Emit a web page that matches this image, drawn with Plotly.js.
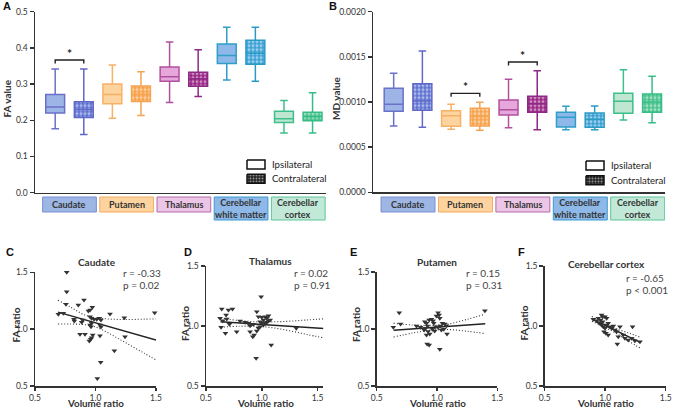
<!DOCTYPE html>
<html><head><meta charset="utf-8">
<script src="https://cdn.plot.ly/plotly-3.0.1.min.js"></script>
<style>html,body{margin:0;padding:0;background:#fff;}#chart{width:673px;height:411px;}</style>
</head><body><div id="chart"></div>
<script>
// ---------------- DATA ----------------
const groups = ['Caudate','Putamen','Thalamus','Cerebellar<br>white matter','Cerebellar<br>cortex'];
const sides = ['Ipsilateral','Contralateral'];

const faIpsiMin = [0.177,0.206,0.249,0.311,0.165];
const faIpsiQ1  = [0.220,0.246,0.308,0.357,0.194];
const faIpsiMed = [0.237,0.271,0.320,0.379,0.204];
const faIpsiQ3  = [0.271,0.300,0.347,0.411,0.225];
const faIpsiMax = [0.342,0.353,0.416,0.457,0.255];
const faConMin  = [0.161,0.213,0.266,0.308,0.165];
const faConQ1   = [0.208,0.252,0.294,0.355,0.199];
const faConMed  = [0.230,0.272,0.315,0.385,0.210];
const faConQ3   = [0.251,0.295,0.333,0.421,0.222];
const faConMax  = [0.342,0.334,0.395,0.457,0.276];

const mdIpsiMin = [0.000734,0.000697,0.000716,0.000694,0.000801];
const mdIpsiQ1  = [0.000897,0.000731,0.000856,0.000723,0.000875];
const mdIpsiMed = [0.000974,0.000849,0.000915,0.000830,0.001007];
const mdIpsiQ3  = [0.001151,0.000904,0.001022,0.000886,0.001096];
const mdIpsiMax = [0.001317,0.000974,0.001251,0.000952,0.001358];
const mdConMin  = [0.000720,0.000686,0.000694,0.000694,0.000771];
const mdConQ1   = [0.000908,0.000734,0.000886,0.000720,0.000886];
const mdConMed  = [0.001010,0.000840,0.000980,0.000810,0.001000];
const mdConQ3   = [0.001203,0.000930,0.001063,0.000878,0.001089];
const mdConMax  = [0.001565,0.000996,0.001347,0.000956,0.001284];

const sigGroupsA = [0];
const sigHeightA = [0.3665];
const sigGroupsB = [1,2];
const sigHeightB = [0.001096,0.001443];

const cVol = [0.762,1.050,0.762,0.756,0.858,0.905,0.974,0.955,0.941,1.120,1.489,0.693,0.734,0.822,0.825,0.894,0.886,0.955,0.968,0.988,1.010,1.032,1.045,0.968,0.955,0.963,1.037,1.045,1.238,0.872,0.913,0.977,0.968,0.960,0.949,1.037,1.244,1.156,1.043,1.015];
const cFA  = [1.500,1.520,1.330,1.218,1.212,1.256,1.192,1.168,1.160,1.133,1.145,1.130,1.139,1.086,1.072,1.080,1.060,1.110,1.095,1.086,1.086,1.095,1.080,1.051,1.037,1.022,1.037,1.019,1.101,0.955,0.955,0.949,0.925,0.911,0.896,0.943,0.934,0.811,0.708,0.567];
const cFitX = [0.69,1.50];
const cFitY = [1.150,0.905];
const cBandX = [0.69,0.8,0.9,1.0,1.1,1.2,1.3,1.4,1.5];
const cBandHi = [1.255,1.19,1.13,1.10,1.09,1.085,1.085,1.088,1.09];
const cBandLo = [1.045,1.045,1.04,1.02,0.97,0.91,0.85,0.79,0.73];

const dVol = [0.994,0.641,0.701,0.737,0.680,0.626,0.686,0.650,0.710,0.635,0.674,0.775,0.805,0.850,0.880,0.895,0.910,0.925,0.955,0.970,1.000,1.030,1.060,1.015,1.045,0.985,1.000,1.015,1.030,1.045,1.060,1.075,0.895,0.919,0.931,0.955,0.970,0.985,1.084,0.949,1.309,1.560];
const dFA  = [1.244,1.142,1.133,1.142,1.092,1.064,1.058,1.044,1.014,0.989,0.939,0.953,1.042,1.031,1.022,1.003,1.014,1.014,1.119,1.078,1.072,1.078,1.086,1.050,1.064,1.036,1.022,1.008,1.022,1.031,1.042,1.050,0.953,0.911,0.925,0.958,0.981,0.994,0.842,0.731,0.981,0.981];
const dFitX = [0.63,1.56];
const dFitY = [1.035,0.980];
const dBandX = [0.63,0.8,0.95,1.1,1.25,1.4,1.56];
const dBandHi = [1.065,1.045,1.035,1.035,1.04,1.05,1.06];
const dBandLo = [0.99,0.998,0.998,0.985,0.96,0.93,0.90];

const eVol = [0.638,0.687,0.698,0.830,0.863,0.899,0.913,0.921,0.904,0.893,0.926,0.940,0.913,0.918,0.935,0.935,0.954,0.968,0.973,0.995,1.009,1.017,1.023,0.990,0.962,0.981,1.009,1.028,1.045,1.064,1.078,1.036,1.056,1.083,1.023,1.397];
const eFA  = [1.015,1.143,1.044,1.026,1.015,1.064,1.050,1.026,1.006,0.991,0.977,0.956,0.947,0.868,0.860,1.079,1.085,1.073,1.050,1.114,1.143,1.123,1.094,1.020,0.997,0.982,1.015,1.026,1.050,1.044,1.029,0.991,0.997,0.956,0.822,1.161];
const eFitX = [0.64,1.40];
const eFitY = [0.990,1.045];
const eBandX = [0.64,0.8,0.95,1.1,1.25,1.4];
const eBandHi = [1.05,1.035,1.03,1.045,1.085,1.13];
const eBandLo = [0.93,0.965,0.99,0.995,0.98,0.96];

const fVol = [0.902,0.929,0.943,0.962,0.979,0.998,1.012,0.951,0.970,0.984,0.998,1.012,1.025,1.039,1.053,1.067,1.080,1.094,0.990,1.006,1.025,1.108,1.100,1.122,1.149,1.163,1.190,1.218,1.245,1.287,1.226,0.979,0.970];
const fFA  = [1.056,1.044,1.064,1.050,1.036,1.078,1.064,1.022,1.008,0.994,0.981,1.008,1.022,0.994,0.981,1.000,0.967,0.953,0.953,0.939,0.925,0.911,0.850,0.994,0.925,0.897,0.883,0.897,0.878,0.869,0.994,1.078,1.092];
const fFitX = [0.89,1.29];
const fFitY = [1.058,0.863];
const fBandX = [0.89,1.0,1.1,1.2,1.29];
const fBandHi = [1.08,1.012,0.973,0.94,0.906];
const fBandLo = [1.04,0.988,0.933,0.87,0.816];

const scatterTitles = ['Caudate','Thalamus','Putamen','Cerebellar cortex'];
const statR = ['r = -0.33','r = 0.02','r = 0.15','r = -0.65'];
const statP = ['p = 0.02','p = 0.91','p = 0.31','p < 0.001'];

// ---------------- STYLE ----------------
const W = 673, H = 411;
const px = x => x / W, py = y => 1 - y / H;
const FONT = 'Lato, "Open Sans", sans-serif';
const TXT = '#333';
const lineIpsi   = ['#6b70c9','#f7b165','#b0509f','#2e9fc8','#3dbf8b'];
const fillIpsi   = ['#9db4e6','#fdd3a0','#e6a7da','#8eb8e9','#bfe6d1'];
const lineCon    = ['#6167c6','#f5a452','#8c2a86','#2a9bc6','#35bd86'];
const fillCon    = ['#5f73d2','#f8a24a','#9a2483','#3aa0d4','#48c28d'];
const labelFill  = ['#9db6e4','#fdd4a0','#ebc6e6','#8db8e8','#c2e9d8'];
const labelLine  = ['#7a8ed5','#f4ab5e','#b46ba8','#3b9bd0','#5cc598'];
const BOXW = 0.66;

const traces = [];
const shapes = [];
const annotations = [];

function boxPanel(xa, ya, ipsi, con) {
  groups.forEach((g, i) => {
    traces.push({type:'bar', xaxis:xa, yaxis:ya, x:[2*i+1], base:[con.q1[i]], y:[con.q3[i]-con.q1[i]],
      width:BOXW, showlegend:false, hoverinfo:'skip',
      marker:{color:fillCon[i], line:{width:0},
        pattern:{shape:'.', fgcolor:'#ffffff', size:4, solidity:0.42, fillmode:'overlay'}}});
  });
  groups.forEach((g, i) => {
    traces.push({type:'box', xaxis:xa, yaxis:ya, x:[2*i],
      q1:[ipsi.q1[i]], median:[ipsi.med[i]], q3:[ipsi.q3[i]], lowerfence:[ipsi.min[i]], upperfence:[ipsi.max[i]],
      width:BOXW, whiskerwidth:0.4, boxpoints:false, fillcolor:fillIpsi[i],
      line:{color:lineIpsi[i], width:1.5}, showlegend:false, hoverinfo:'skip'});
    traces.push({type:'box', xaxis:xa, yaxis:ya, x:[2*i+1],
      q1:[con.q1[i]], median:[con.med[i]], q3:[con.q3[i]], lowerfence:[con.min[i]], upperfence:[con.max[i]],
      width:BOXW, whiskerwidth:0.4, boxpoints:false, fillcolor:'rgba(0,0,0,0)',
      line:{color:lineCon[i], width:1.5}, showlegend:false, hoverinfo:'skip'});
  });
}
boxPanel('x','y',
  {min:faIpsiMin,q1:faIpsiQ1,med:faIpsiMed,q3:faIpsiQ3,max:faIpsiMax},
  {min:faConMin,q1:faConQ1,med:faConMed,q3:faConQ3,max:faConMax});
boxPanel('x2','y2',
  {min:mdIpsiMin,q1:mdIpsiQ1,med:mdIpsiMed,q3:mdIpsiQ3,max:mdIpsiMax},
  {min:mdConMin,q1:mdConQ1,med:mdConMed,q3:mdConQ3,max:mdConMax});

['x','x2'].forEach(xa => {
  groups.forEach((g, i) => {
    const two = g.indexOf('<br>') >= 0;
    shapes.push({type:'rect', xref:xa, yref:'paper', x0:2*i+0.5-0.94, x1:2*i+0.5+0.94,
      y0:py(two?220:212), y1:py(197), fillcolor:labelFill[i], line:{color:labelLine[i], width:1}, layer:'above'});
    annotations.push({xref:xa, yref:'paper', x:2*i+0.5, y:py(two?208.5:204.5), text:g, showarrow:false,
      xanchor:'center', yanchor:'middle', font:{family:FONT, size:9, color:TXT, weight:'bold'}});
  });
});

function brackets(xa, ya, gs, hs, leg) {
  gs.forEach((g, k) => {
    const h = hs[k], x0 = 2*g, x1 = 2*g+1;
    shapes.push({type:'path', xref:xa, yref:ya, path:`M${x0},${h-leg} L${x0},${h} L${x1},${h} L${x1},${h-leg}`,
      line:{color:'#222', width:1.4}});
    annotations.push({xref:xa, yref:ya, x:g*2+0.5, y:h, text:'*', showarrow:false, xanchor:'center', yanchor:'bottom',
      yshift:-3, font:{family:FONT, size:12, color:'#222', weight:'bold'}});
  });
}
brackets('x','y',sigGroupsA,sigHeightA,0.0095);
brackets('x2','y2',sigGroupsB,sigHeightB,0.000038);

const sc = [
  {xa:'x3',ya:'y3',vx:cVol,vy:cFA,fx:cFitX,fy:cFitY,bx:cBandX,bh:cBandHi,bl:cBandLo},
  {xa:'x4',ya:'y4',vx:dVol,vy:dFA,fx:dFitX,fy:dFitY,bx:dBandX,bh:dBandHi,bl:dBandLo},
  {xa:'x5',ya:'y5',vx:eVol,vy:eFA,fx:eFitX,fy:eFitY,bx:eBandX,bh:eBandHi,bl:eBandLo},
  {xa:'x6',ya:'y6',vx:fVol,vy:fFA,fx:fFitX,fy:fFitY,bx:fBandX,bh:fBandHi,bl:fBandLo}
];
sc.forEach(s => {
  [s.bh, s.bl].forEach(b => traces.push({type:'scatter', mode:'lines', xaxis:s.xa, yaxis:s.ya, x:s.bx, y:b,
    line:{color:'#333', width:1.1, dash:'1px,2px', shape:'spline'}, showlegend:false, hoverinfo:'skip', cliponaxis:false}));
  traces.push({type:'scatter', mode:'lines', xaxis:s.xa, yaxis:s.ya, x:s.fx, y:s.fy,
    line:{color:'#222', width:1.5}, showlegend:false, hoverinfo:'skip', cliponaxis:false});
  traces.push({type:'scatter', mode:'markers', xaxis:s.xa, yaxis:s.ya, x:s.vx, y:s.vy,
    marker:{symbol:'triangle-down', size:5, color:'#333', line:{width:0}}, showlegend:false, hoverinfo:'skip', cliponaxis:false});
});

function legendKeys(x0, y0, dy) {
  const w = 18, h = 9;
  sides.forEach((s, k) => {
    const yt = y0 + k*dy;
    const tr = {type:'scatter', mode:'lines', xaxis:'x7', yaxis:'y7',
      x:[x0, x0+w, x0+w, x0, x0], y:[yt, yt, yt+h, yt+h, yt], fill:'toself',
      fillcolor: k===0 ? '#ffffff' : '#222222',
      line:{color:'#111', width:1.5}, showlegend:false, hoverinfo:'skip'};
    if (k === 1) tr.fillpattern = {shape:'.', fgcolor:'#ffffff', bgcolor:'#222222', size:3, solidity:0.35, fillmode:'overlay'};
    traces.push(tr);
    annotations.push({xref:'paper', yref:'paper', x:px(x0+w+5), y:py(yt+h/2), text:s, showarrow:false,
      xanchor:'left', yanchor:'middle', font:{family:FONT, size:9.6, color:'#222'}});
  });
}
legendKeys(247, 160, 14.3);
legendKeys(586, 161, 14.7);

[['A',7.3,6.3],['B',333,6.3],['C',10.3,252],['D',188.3,252],['E',353.3,252],['F',521,252]].forEach(p =>
  annotations.push({xref:'paper', yref:'paper', x:px(p[1]), y:py(p[2]), text:p[0], showarrow:false,
    xanchor:'center', yanchor:'middle', font:{family:'"Liberation Sans", Arial, sans-serif', size:11, color:'#111', weight:'bold'}}));

const bold10 = {family:FONT, size:10, color:TXT, weight:'bold'};
annotations.push({xref:'paper', yref:'paper', x:px(6.5), y:py(99), text:'FA value', textangle:-90, showarrow:false, xanchor:'center', yanchor:'middle', font:bold10});
annotations.push({xref:'paper', yref:'paper', x:px(336), y:py(98), text:'MD value', textangle:-90, showarrow:false, xanchor:'center', yanchor:'middle', font:bold10});
const scTitlePos = [[96.7,262.3],[270,260.7],[436.7,262.3],[606.3,264.3]];
const scYTitle = [[15.5,325],[185,324],[356,325],[523.5,323]];
const scXTitle = [95.5,265,437,605.5];
const scStat = [[120.7,273.3,284.5],[291.7,273,285],[464.3,272.7,285],[623.7,277.7,289.5]];
for (let k = 0; k < 4; k++) {
  annotations.push({xref:'paper', yref:'paper', x:px(scTitlePos[k][0]), y:py(scTitlePos[k][1]), text:scatterTitles[k], showarrow:false, xanchor:'center', yanchor:'middle', font:bold10});
  annotations.push({xref:'paper', yref:'paper', x:px(scYTitle[k][0]), y:py(scYTitle[k][1]), text:'FA ratio', textangle:-90, showarrow:false, xanchor:'center', yanchor:'middle', font:{family:FONT, size:10, color:TXT, weight:'bold'}});
  annotations.push({xref:'paper', yref:'paper', x:px(scXTitle[k]), y:py(410.6), text:'Volume ratio', showarrow:false, xanchor:'center', yanchor:'bottom', font:{family:FONT, size:9.8, color:TXT, weight:'bold'}});
  annotations.push({xref:'paper', yref:'paper', x:px(scStat[k][0]), y:py(scStat[k][1]), text:statR[k], showarrow:false, xanchor:'left', yanchor:'middle', font:{family:FONT, size:10, color:'#444'}});
  annotations.push({xref:'paper', yref:'paper', x:px(scStat[k][0]), y:py(scStat[k][2]), text:statP[k], showarrow:false, xanchor:'left', yanchor:'middle', font:{family:FONT, size:10, color:'#444'}});
}

const axBase = {showgrid:false, zeroline:false, showline:true, linecolor:'#333', linewidth:1.5,
  ticks:'outside', ticklen:4, tickwidth:1.5, tickcolor:'#333',
  tickfont:{family:FONT, size:8.5, color:TXT}, fixedrange:true};
const scX = {tickvals:[0.5,1.0,1.5], tickformat:'.1f', ticklen:3};
const scY = {tickvals:[0.5,1.0,1.5], tickformat:'.1f'};
const layout = {
  width:W, height:H, margin:{l:0,r:0,t:0,b:0}, paper_bgcolor:'#ffffff', plot_bgcolor:'rgba(0,0,0,0)',
  showlegend:false, barmode:'overlay', boxmode:'overlay', font:{family:FONT, color:TXT},
  xaxis: {...axBase, domain:[px(35),px(326)], range:[-0.706,9.47], anchor:'y', ticks:'', showticklabels:false},
  yaxis: {...axBase, domain:[py(192.7),py(11.7)], range:[0,0.5], anchor:'x', tickvals:[0,0.1,0.2,0.3,0.4,0.5], tickformat:'.1f'},
  xaxis2:{...axBase, domain:[px(373),px(665)], range:[-0.72,9.45], anchor:'y2', ticks:'', showticklabels:false},
  yaxis2:{...axBase, domain:[py(192.3),py(11.7)], range:[0,0.002], anchor:'x2', tickvals:[0,0.0005,0.001,0.0015,0.002], tickformat:'.4f'},
  xaxis3:{...axBase, ...scX, domain:[px(35),px(156)], range:[0.5,1.5], anchor:'y3'},
  yaxis3:{...axBase, ...scY, domain:[py(386),py(272.3)], range:[0.5,1.5], anchor:'x3'},
  xaxis4:{...axBase, ...scX, domain:[px(206),px(323.2)], range:[0.5,1.55], anchor:'y4'},
  yaxis4:{...axBase, ...scY, domain:[py(386),py(266)], range:[0.5,1.5], anchor:'x4'},
  xaxis5:{...axBase, ...scX, domain:[px(376.7),px(497.3)], range:[0.5,1.5], anchor:'y5'},
  yaxis5:{...axBase, ...scY, domain:[py(386),py(272)], range:[0.5,1.5], anchor:'x5'},
  xaxis6:{...axBase, ...scX, domain:[px(544.7),px(665.7)], range:[0.5,1.5], anchor:'y6'},
  yaxis6:{...axBase, ...scY, domain:[py(386),py(266)], range:[0.5,1.5], anchor:'x6'},
  xaxis7:{domain:[0,1], range:[0,W], visible:false, anchor:'y7', fixedrange:true},
  yaxis7:{domain:[0,1], range:[H,0], visible:false, anchor:'x7', fixedrange:true},
  shapes:shapes, annotations:annotations
};
Plotly.newPlot('chart', traces, layout, {staticPlot:true, displayModeBar:false});
</script></body></html>
